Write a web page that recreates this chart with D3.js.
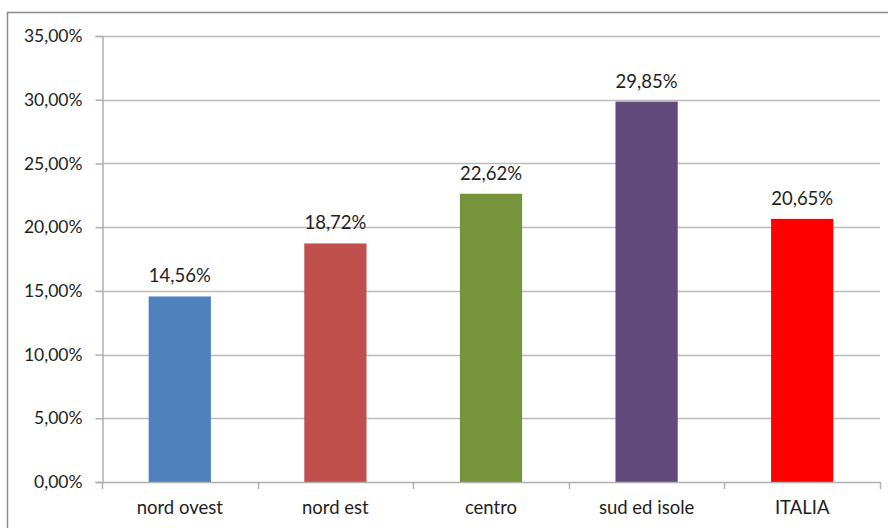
<!DOCTYPE html>
<html>
<head>
<meta charset="utf-8">
<script src="https://cdn.jsdelivr.net/npm/d3@7"></script>
<style>
  html, body { margin: 0; padding: 0; background: #fff; }
  svg { display: block; }
  text { font-family: Lato, "Open Sans", sans-serif; fill: #1e1e1e; }
</style>
</head>
<body>
<svg id="chart" width="888" height="528"></svg>
<script>
// Regional shares (percent)
const categories = ["nord ovest", "nord est", "centro", "sud ed isole", "ITALIA"];
const values = [14.56, 18.72, 22.62, 29.85, 20.65];
const barColors = ["#4F81BD", "#C0504D", "#77933C", "#604A7B", "#FF0000"];
const yTicks = [0, 5, 10, 15, 20, 25, 30, 35];

const fmt = v => d3.format(".2f")(v).replace(".", ",") + "%";
const FS = 18.5;

const svg = d3.select("#chart");
const plot = { left: 102, right: 880, top: 36, bottom: 482 };

// Chart frame (runs past the right and bottom edges)
svg.append("rect")
  .attr("x", 7.5).attr("y", 12.5)
  .attr("width", 900).attr("height", 540)
  .attr("fill", "none").attr("stroke", "#8a8a8a").attr("stroke-width", 1.5);

const x = d3.scaleBand()
  .domain(categories)
  .range([plot.left, plot.right])
  .paddingInner(0.6).paddingOuter(0.3);

const y = d3.scaleLinear().domain([0, 35]).range([plot.bottom, plot.top]);

// Horizontal gridlines
svg.append("g").selectAll("line")
  .data(yTicks.filter(t => t > 0))
  .join("line")
  .attr("x1", plot.left).attr("x2", plot.right)
  .attr("y1", d => Math.round(y(d)) + 0.5).attr("y2", d => Math.round(y(d)) + 0.5)
  .attr("stroke", "#bcbcbc").attr("stroke-width", 1.5);

// Y axis
const yAxis = svg.append("g")
  .attr("transform", `translate(${plot.left + 0.5},0)`)
  .call(d3.axisLeft(y).tickValues(yTicks).tickFormat(fmt).tickSize(7).tickPadding(13));
yAxis.select(".domain").attr("stroke", "#b0b0b0").attr("stroke-width", 1.5);
yAxis.selectAll(".tick line").attr("stroke", "#b0b0b0").attr("stroke-width", 1.5);
yAxis.selectAll(".tick text").attr("font-size", 17.5).attr("fill", "#1e1e1e")
  .style("font-family", "Lato, 'Open Sans', sans-serif");

// Bars
svg.append("g").selectAll("rect")
  .data(values)
  .join("rect")
  .attr("x", (d, i) => x(categories[i]))
  .attr("y", d => y(d))
  .attr("width", x.bandwidth())
  .attr("height", d => y(0) - y(d))
  .attr("fill", (d, i) => barColors[i]);

// X axis baseline with category boundary ticks
const bounds = d3.range(categories.length + 1).map(i => plot.left + i * (plot.right - plot.left) / categories.length);
svg.append("line")
  .attr("x1", plot.left).attr("x2", plot.right)
  .attr("y1", plot.bottom + 0.5).attr("y2", plot.bottom + 0.5)
  .attr("stroke", "#b0b0b0").attr("stroke-width", 1.5);
svg.append("g").selectAll("line")
  .data(bounds)
  .join("line")
  .attr("x1", d => Math.round(d) + 0.5).attr("x2", d => Math.round(d) + 0.5)
  .attr("y1", plot.bottom).attr("y2", plot.bottom + 7)
  .attr("stroke", "#b0b0b0").attr("stroke-width", 1.5);

// Category labels
svg.append("g").selectAll("text")
  .data(categories)
  .join("text")
  .attr("x", d => x(d) + x.bandwidth() / 2)
  .attr("y", 514)
  .attr("text-anchor", "middle")
  .attr("font-size", FS)
  .text(d => d);

// Value labels
svg.append("g").selectAll("text")
  .data(values)
  .join("text")
  .attr("x", (d, i) => x(categories[i]) + x.bandwidth() / 2)
  .attr("y", d => y(d) - 14)
  .attr("text-anchor", "middle")
  .attr("font-size", FS)
  .text(d => fmt(d));
</script>
</body>
</html>
